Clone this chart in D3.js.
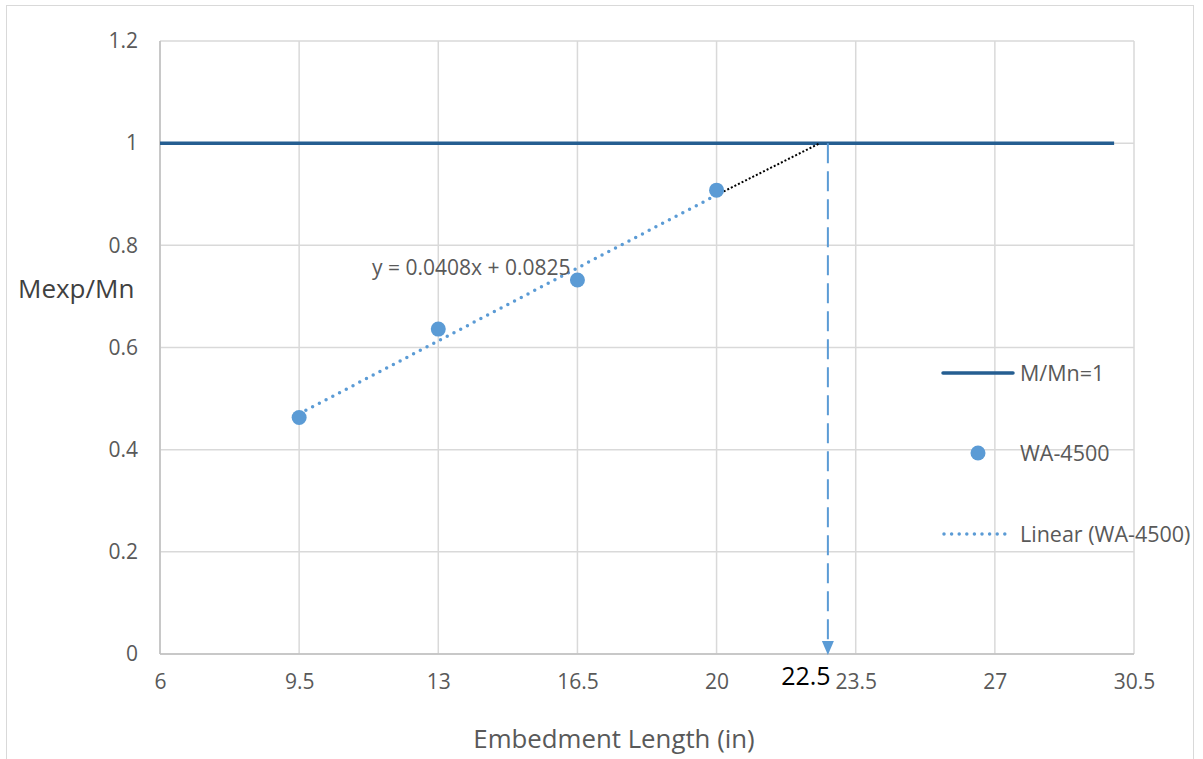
<!DOCTYPE html>
<html><head><meta charset="utf-8">
<script src="https://cdn.jsdelivr.net/npm/d3@7"></script>
<style>body{margin:0;background:#fff}svg{display:block}text{font-family:"Open Sans",Lato,sans-serif}</style>
</head><body><svg id="c" width="1203" height="759"></svg>
<script>
const xTicks = [6, 9.5, 13, 16.5, 20, 23.5, 27, 30.5];
const yTicks = [0, 0.2, 0.4, 0.6, 0.8, 1, 1.2];
const refLineX = [6, 30];
const refLineY = [1, 1];
const pointsX = [9.5, 13, 16.5, 20];
const pointsY = [0.463, 0.636, 0.732, 0.908];
const trendSlope = 0.0408, trendIntercept = 0.0825;
const trendRange = [9.5, 20];
const extRange = [20, 22.6];
const arrowX = 22.8;
const arrowLabel = "22.5";
const seriesNames = ["M/Mn=1", "WA-4500", "Linear (WA-4500)"];
const eqLabel = "y = 0.0408x + 0.0825";

const svg = d3.select("#c");
const L = 160, R = 1134, T = 41, B = 654;
const x = d3.scaleLinear().domain([6, 30.5]).range([L, R]);
const y = d3.scaleLinear().domain([0, 1.2]).range([B, T]);
const blue = "#5b9bd5", dark = "#255e91", grey = "#595959";

svg.append("rect").attr("x", 6.5).attr("y", 5.5).attr("width", 1187).attr("height", 760).attr("fill", "none").attr("stroke", "#d9d9d9");

svg.append("g").selectAll("line").data(xTicks).join("line")
  .attr("x1", d => x(d)).attr("x2", d => x(d)).attr("y1", T).attr("y2", B)
  .attr("stroke", "#d9d9d9").attr("stroke-width", 1.5);
svg.append("g").selectAll("line").data(yTicks).join("line")
  .attr("x1", L).attr("x2", R).attr("y1", d => y(d)).attr("y2", d => y(d))
  .attr("stroke", "#d9d9d9").attr("stroke-width", 1.5);
svg.append("line").attr("x1", L).attr("x2", L).attr("y1", T).attr("y2", B).attr("stroke", "#bfbfbf").attr("stroke-width", 1.5);
svg.append("line").attr("x1", L).attr("x2", R).attr("y1", B).attr("y2", B).attr("stroke", "#bfbfbf").attr("stroke-width", 1.5);

const xAxis = svg.append("g").attr("transform", `translate(0,${B})`)
  .call(d3.axisBottom(x).tickValues(xTicks).tickSize(0).tickPadding(20).tickFormat(d3.format("~g")));
xAxis.select(".domain").remove();
xAxis.selectAll("text").attr("fill", grey).attr("font-size", 21);
const yAxis = svg.append("g").attr("transform", `translate(${L},0)`)
  .call(d3.axisLeft(y).tickValues(yTicks).tickSize(0).tickPadding(22).tickFormat(d3.format("~g")));
yAxis.select(".domain").remove();
yAxis.selectAll("text").attr("fill", grey).attr("font-size", 21);

svg.append("text").attr("x", 614).attr("y", 748).attr("text-anchor", "middle").attr("fill", grey).attr("font-size", 25.8).text("Embedment Length (in)");
svg.append("text").attr("x", 18).attr("y", 298).attr("fill", "#404040").attr("font-size", 26).text("Mexp/Mn");

svg.append("line").attr("x1", x(refLineX[0])).attr("x2", x(refLineX[1])).attr("y1", y(refLineY[0])).attr("y2", y(refLineY[1]))
  .attr("stroke", dark).attr("stroke-width", 3.5);

const tl = d => trendSlope * d + trendIntercept;
svg.append("line").attr("x1", x(trendRange[0])).attr("y1", y(tl(trendRange[0]))).attr("x2", x(trendRange[1])).attr("y2", y(tl(trendRange[1])))
  .attr("stroke", blue).attr("stroke-width", 3.5).attr("stroke-linecap", "round").attr("stroke-dasharray", "0 7.6");
svg.append("line").attr("x1", x(extRange[0])).attr("y1", y(tl(extRange[0]))).attr("x2", x(extRange[1])).attr("y2", y(1))
  .attr("stroke", "#000").attr("stroke-width", 2).attr("stroke-dasharray", "2 2");

svg.append("line").attr("x1", x(arrowX)).attr("x2", x(arrowX)).attr("y1", y(1)).attr("y2", B - 12)
  .attr("stroke", blue).attr("stroke-width", 2).attr("stroke-dasharray", "20 8");
const ax = x(arrowX);
svg.append("path").attr("d", `M${ax-6},${B-13}L${ax+6},${B-13}L${ax},${B+1}Z`).attr("fill", blue);
svg.append("text").attr("x", ax - 22).attr("y", 685).attr("text-anchor", "middle").attr("fill", "#000").attr("font-size", 25).text(arrowLabel);

svg.append("g").selectAll("circle").data(pointsX).join("circle")
  .attr("cx", d => x(d)).attr("cy", (d, i) => y(pointsY[i])).attr("r", 7.5).attr("fill", blue);

svg.append("text").attr("x", 372).attr("y", 275).attr("fill", grey).attr("font-size", 21).text(eqLabel);

const lg = svg.append("g");
lg.append("line").attr("x1", 943).attr("x2", 1013).attr("y1", 373).attr("y2", 373).attr("stroke", dark).attr("stroke-width", 3.5).attr("stroke-linecap", "round");
lg.append("circle").attr("cx", 978).attr("cy", 453).attr("r", 7.5).attr("fill", blue);
lg.append("line").attr("x1", 944).attr("x2", 1006).attr("y1", 534).attr("y2", 534).attr("stroke", blue).attr("stroke-width", 3.5).attr("stroke-linecap", "round").attr("stroke-dasharray", "0 7.6");
lg.selectAll("text").data(seriesNames).join("text")
  .attr("x", 1020).attr("y", (d, i) => [381, 461, 542][i]).attr("fill", grey).attr("font-size", 21.5).text(d => d);
</script></body></html>
